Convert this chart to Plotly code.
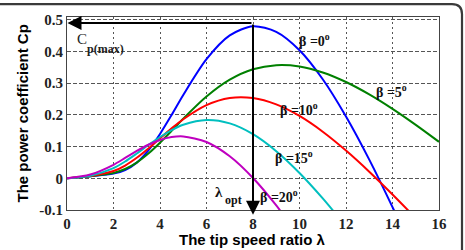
import plotly.graph_objects as go

# ---- data ----
LAMBDA = [0, 1, 2, 2.5, 3, 3.5, 4, 4.5, 5, 6, 7, 8, 9, 10, 11, 12, 13, 14, 15, 16]
CP_BETA0 = [0, 0.0068, 0.0151, 0.0261, 0.0495, 0.0882, 0.140, 0.200, 0.263, 0.376, 0.451,
            0.480, 0.462, 0.404, 0.3125, 0.195, 0.059, -0.091, -0.251, -0.417]
CP_BETA5 = [0, 0.0068, 0.0170, 0.0293, 0.0497, 0.0780, 0.1123, 0.1498, 0.1880, 0.2579, 0.3111,
            0.3440, 0.3571, 0.353, 0.3341, 0.3039, 0.2648, 0.2191, 0.1686, 0.115]
CP_BETA10 = [0, 0.0070, 0.0229, 0.0403, 0.0648, 0.0943, 0.1260, 0.1575, 0.1864, 0.2310, 0.2535,
             0.2534, 0.2333, 0.1967, 0.147, 0.0875, 0.0208, -0.051, -0.126, -0.203]
CP_BETA15 = [0, 0.0083, 0.0321, 0.0531, 0.0784, 0.1050, 0.1304, 0.1522, 0.1689, 0.1839, 0.1733,
             0.1393, 0.0857, 0.0169, -0.0634, -0.1518, None, None, None, None]
CP_BETA20 = [0, 0.0119, 0.0427, 0.0642, 0.0862, 0.1059, 0.1211, 0.1302, 0.1323, 0.1147, 0.0696,
             0.0011, -0.0856, -0.186, None, None, None, None, None, None]
SERIES = [CP_BETA0, CP_BETA5, CP_BETA10, CP_BETA15, CP_BETA20]
BETA_LABELS = ["β =0<sup>o</sup>", "β =5<sup>o</sup>", "β =10<sup>o</sup>",
               "β =15<sup>o</sup>", "β =20<sup>o</sup>"]
X_TICKS = [0, 2, 4, 6, 8, 10, 12, 14, 16]
Y_TICKS = [-0.1, 0, 0.1, 0.2, 0.3, 0.4, 0.5]
Y_TICK_TEXT = ["-0.1", "0", "0.1", "0.2", "0.3", "0.4", "0.5"]
CP_MAX = 0.49
LAMBDA_OPT = 8

COLORS = ["#0000ff", "#008000", "#ff0000", "#00bfbf", "#bf00bf"]
SERIF = "Liberation Serif"
SANS = "Liberation Sans"

fig = go.Figure()
for vals, col in zip(SERIES, COLORS):
    fig.add_trace(go.Scatter(x=LAMBDA, y=vals, mode="lines",
                             line=dict(color=col, width=2, shape="spline", smoothing=0.8),
                             connectgaps=False, showlegend=False, hoverinfo="skip"))

# plot area: x px 67..439, y px 15..210
L, R, T, B = 67, 439, 15, 210
W, H = R - L, B - T
def px(xp):
    return (xp - L) / W
def py(yp):
    return (B - yp) / H

ann = []
# beta labels
label_pos = [(9.88, 0.436), (13.22, 0.276), (9.06, 0.220), (8.86, 0.066), (8.22, -0.056)]
for txt, (lx, ly) in zip(BETA_LABELS, label_pos):
    ann.append(dict(x=lx, y=ly, xref="x", yref="y", text="<b>" + txt + "</b>", showarrow=False,
                    xanchor="left", yanchor="middle",
                    font=dict(family=SERIF, size=14, color="#111")))
# Cp(max) label
ann.append(dict(x=px(75), y=py(37), xref="paper", yref="paper", text="C", showarrow=False,
                xanchor="left", yanchor="middle", font=dict(family=SERIF, size=15, color="#222")))
ann.append(dict(x=px(85), y=py(47), xref="paper", yref="paper", text="<b>p(max)</b>",
                showarrow=False, xanchor="left", yanchor="middle",
                font=dict(family=SERIF, size=12, color="#222")))
# lambda opt label
ann.append(dict(x=px(213), y=py(192), xref="paper", yref="paper", text="<b>λ</b>", showarrow=False,
                xanchor="left", yanchor="middle", font=dict(family=SERIF, size=15, color="#111")))
ann.append(dict(x=px(222.5), y=py(200), xref="paper", yref="paper", text="<b>opt</b>",
                showarrow=False, xanchor="left", yanchor="middle",
                font=dict(family=SERIF, size=12, color="#111")))
# horizontal arrow to Cp max
ann.append(dict(x=0.02, y=CP_MAX, ax=LAMBDA_OPT, ay=CP_MAX, xref="x", yref="y", axref="x", ayref="y",
                text="", showarrow=True, arrowhead=2, arrowsize=1.4, arrowwidth=2, arrowcolor="#000",
                standoff=0))
# vertical arrow to lambda opt
ann.append(dict(x=LAMBDA_OPT, y=-0.115, ax=LAMBDA_OPT, ay=CP_MAX, xref="x", yref="y", axref="x",
                ayref="y", text="", showarrow=True, arrowhead=2, arrowsize=1.4, arrowwidth=2,
                arrowcolor="#000", standoff=0))
# axis titles
ann.append(dict(x=px(252), y=py(240), xref="paper", yref="paper", text="<b>The tip speed ratio λ</b>",
                showarrow=False, xanchor="center", yanchor="middle",
                font=dict(family=SANS, size=15, color="#000")))
ann.append(dict(x=px(22.5), y=py(113), xref="paper", yref="paper",
                text="<b>The power coefficient Cp</b>", textangle=-90, showarrow=False,
                xanchor="center", yanchor="middle", font=dict(family=SANS, size=15, color="#000")))

# outer rounded frame (top + right)
frame = (f"M {px(0)},{py(2)} L {px(452)},{py(2)} Q {px(462)},{py(2)} {px(462)},{py(12)} "
         f"L {px(462)},{py(252)}")
shapes = [dict(type="path", path=frame, xref="paper", yref="paper",
               line=dict(color="#3a3a3a", width=2.2))]

fig.update_layout(
    width=465, height=250,
    margin=dict(l=L, r=465 - R, t=T, b=250 - B),
    paper_bgcolor="white", plot_bgcolor="white",
    annotations=ann, shapes=shapes,
    xaxis=dict(range=[0, 16], tickvals=X_TICKS, showgrid=True, gridcolor="#555",
               griddash="2px,3px", gridwidth=1, zeroline=False, showline=True, linecolor="#444",
               linewidth=1.2, mirror=True, ticks="",
               tickfont=dict(family=SERIF, size=15, color="#222", weight="bold")),
    yaxis=dict(range=[-0.1, 0.509], tickvals=Y_TICKS, ticktext=Y_TICK_TEXT, showgrid=True,
               gridcolor="#555", griddash="4px,2px", gridwidth=1, zeroline=False, showline=True,
               linecolor="#444", linewidth=1.2, mirror=True, ticks="",
               tickfont=dict(family=SERIF, size=15, color="#222", weight="bold")),
)

fig.write_html("out.html")
